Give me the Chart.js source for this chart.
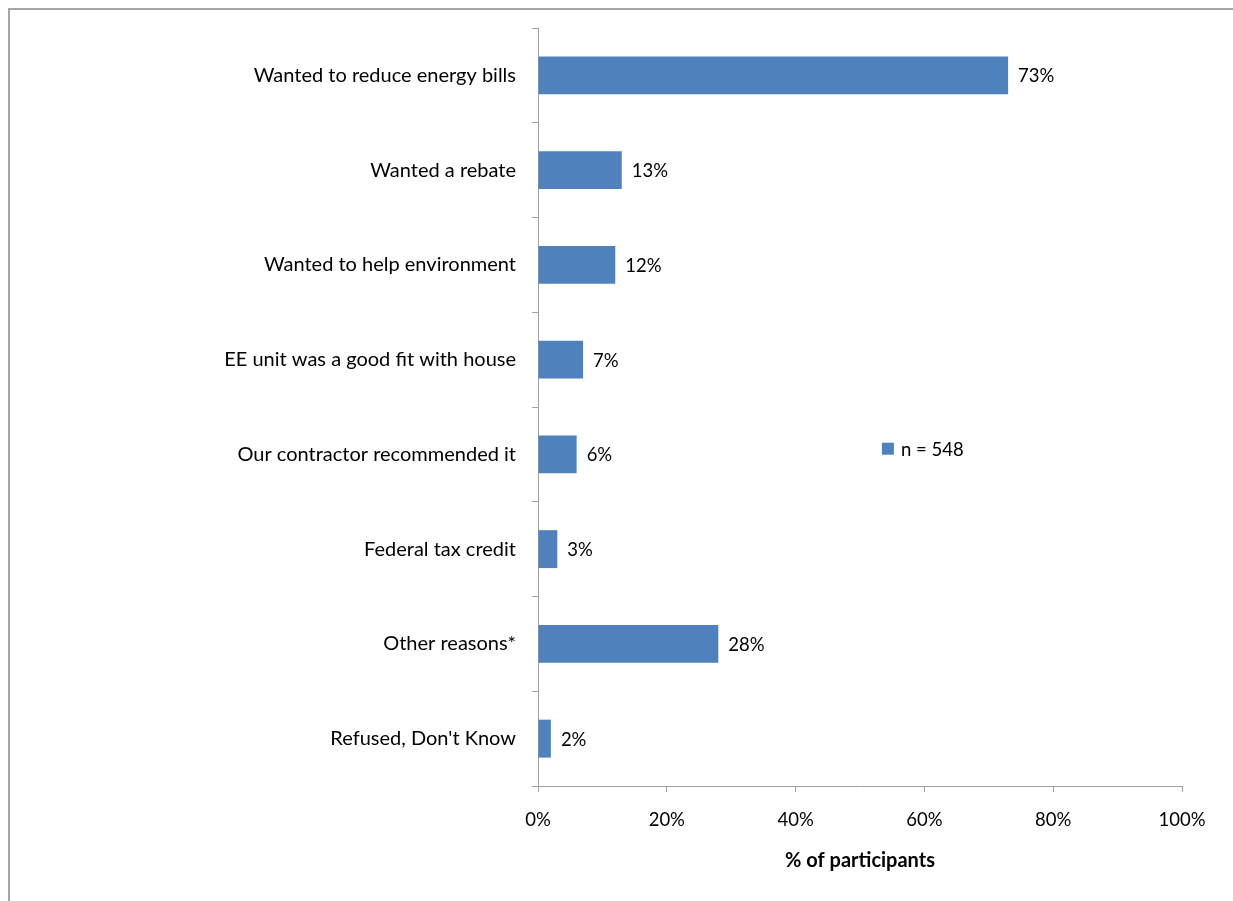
<!DOCTYPE html>
<html>
<head>
<meta charset="utf-8">
<script src="https://cdn.jsdelivr.net/npm/chart.js@4/dist/chart.umd.min.js"></script>
<style>
	body { margin: 0; background: #fff; }
	#frame { position: absolute; left: 8px; top: 8px; width: 1240px; height: 900px; border-left: 2px solid #a6a6a6; border-top: 2px solid #a6a6a6; }
	#wrap { position: absolute; left: 0; top: 0; width: 1233px; height: 901px; }
</style>
</head>
<body>
<div id="frame"></div>
<div id="wrap"><canvas id="canvas" width="1233" height="901"></canvas></div>
<script>
var reasons = [
	'Wanted to reduce energy bills',
	'Wanted a rebate',
	'Wanted to help environment',
	'EE unit was a good fit with house',
	'Our contractor recommended it',
	'Federal tax credit',
	'Other reasons*',
	"Refused, Don't Know"
];
var shares = [73, 13, 12, 7, 6, 3, 28, 2];
var xTicks = [0, 20, 40, 60, 80, 100];
var seriesName = 'n = 548';

var barBlue = '#4f81bd';
var axisGray = '#a0a0a0';
var fontFamily = 'Lato, "Open Sans", sans-serif';
var textSize = 20;
var numSize = 18.5;

// value labels just past the end of each bar
var valueLabels = {
	id: 'valueLabels',
	afterDatasetsDraw: function(chart) {
		var ctx = chart.ctx;
		var meta = chart.getDatasetMeta(0);
		ctx.save();
		ctx.font = numSize + 'px ' + fontFamily;
		ctx.fillStyle = '#000';
		ctx.textAlign = 'left';
		ctx.textBaseline = 'middle';
		meta.data.forEach(function(bar, i) {
			ctx.fillText(shares[i] + '%', bar.x + 10, bar.y + 1);
		});
		ctx.restore();
	}
};

// small legend floating inside the plot area
var floatLegend = {
	id: 'floatLegend',
	afterDraw: function(chart) {
		var a = chart.chartArea;
		var ctx = chart.ctx;
		var x = a.left + (a.right - a.left) * 0.534;
		var y = a.top + (a.bottom - a.top) * 0.555;
		ctx.save();
		ctx.fillStyle = barBlue;
		ctx.fillRect(x, y - 6, 12, 12);
		ctx.font = numSize + 'px ' + fontFamily;
		ctx.fillStyle = '#000';
		ctx.textAlign = 'left';
		ctx.textBaseline = 'middle';
		ctx.fillText(seriesName, x + 19, y + 1);
		ctx.restore();
	}
};

var config = {
	type: 'bar',
	data: {
		labels: reasons,
		datasets: [{
			label: seriesName,
			data: shares,
			backgroundColor: barBlue,
			borderWidth: 0,
			categoryPercentage: 0.8,
			barPercentage: 0.5
		}]
	},
	options: {
		indexAxis: 'y',
		responsive: false,
		animation: false,
		layout: {
			padding: { left: 0, right: 51, top: 28, bottom: 0 }
		},
		plugins: {
			legend: { display: false },
			tooltip: { enabled: false }
		},
		scales: {
			x: {
				min: 0,
				max: 100,
				afterBuildTicks: function(scale) {
					scale.ticks = xTicks.map(function(v) { return { value: v }; });
				},
				afterFit: function(scale) {
					scale.height = 115;
				},
				border: { display: true, color: axisGray, width: 1 },
				grid: { drawOnChartArea: false, drawTicks: true, tickLength: 6, color: axisGray },
				ticks: {
					padding: 17,
					color: '#000',
					font: { family: fontFamily, size: numSize },
					maxRotation: 0,
					callback: function(v) { return v + '%'; }
				},
				title: {
					display: true,
					text: '% of participants',
					color: '#000',
					font: { family: fontFamily, size: textSize, weight: 'bold' },
					padding: { top: 0, bottom: 28 }
				}
			},
			y: {
				afterFit: function(scale) {
					scale.width = 538;
				},
				border: { display: true, color: axisGray, width: 1 },
				grid: { drawOnChartArea: false, drawTicks: true, tickLength: 6, color: axisGray },
				ticks: {
					padding: 16,
					color: '#000',
					font: { family: fontFamily, size: textSize }
				}
			}
		}
	},
	plugins: [valueLabels, floatLegend]
};

window.onload = function() {
	window.myBar = new Chart(document.getElementById('canvas'), config);
};
</script>
</body>
</html>
